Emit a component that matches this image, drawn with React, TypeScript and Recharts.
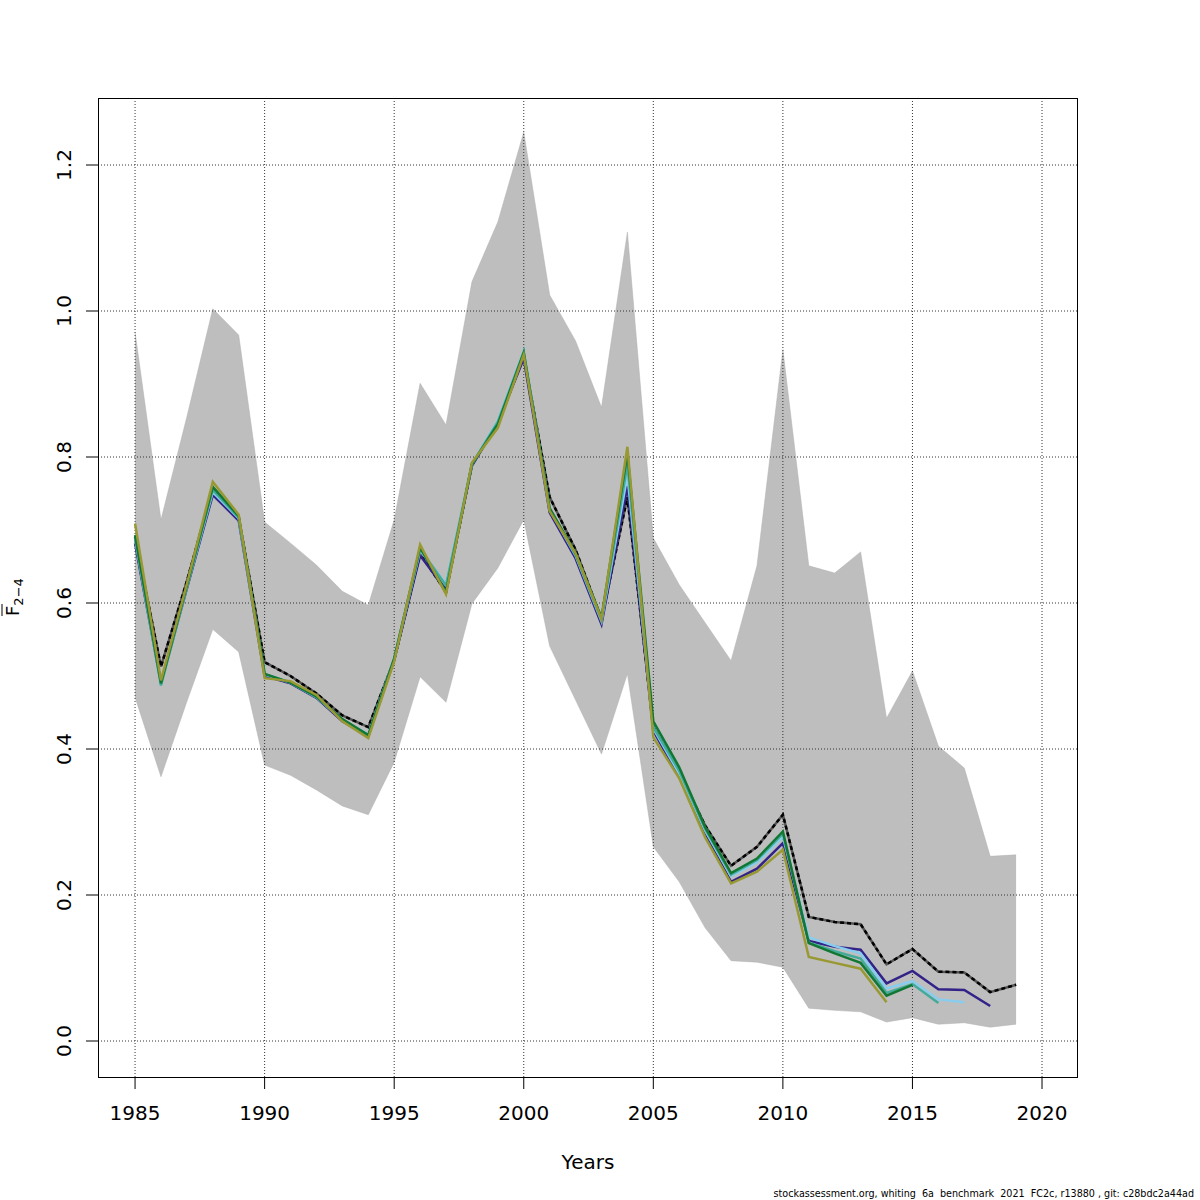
import React from 'react'
import { ComposedChart, Line, Area, XAxis, YAxis, ReferenceLine } from 'recharts'

const years = [
  1985, 1986, 1987, 1988, 1989, 1990, 1991, 1992, 1993, 1994,
  1995, 1996, 1997, 1998, 1999, 2000, 2001, 2002, 2003, 2004,
  2005, 2006, 2007, 2008, 2009, 2010, 2011, 2012, 2013, 2014,
  2015, 2016, 2017, 2018, 2019,
]

// confidence band of the full assessment
const upper = [
  0.971, 0.714, 0.855, 1.003, 0.967, 0.711, 0.682, 0.652, 0.616, 0.597,
  0.714, 0.901, 0.844, 1.040, 1.122, 1.245, 1.022, 0.959, 0.868, 1.108,
  0.689, 0.625, 0.573, 0.521, 0.651, 0.947, 0.651, 0.641, 0.670, 0.442,
  0.507, 0.404, 0.374, 0.253, 0.255,
]
const lower = [
  0.471, 0.362, 0.465, 0.564, 0.533, 0.378, 0.364, 0.344, 0.322, 0.310,
  0.382, 0.499, 0.464, 0.599, 0.648, 0.714, 0.541, 0.467, 0.393, 0.503,
  0.266, 0.218, 0.155, 0.110, 0.108, 0.101, 0.045, 0.042, 0.040, 0.026,
  0.032, 0.023, 0.025, 0.019, 0.023,
]

// full run (black dashed) and retrospective peels
const full = [
  0.690, 0.513, 0.630, 0.757, 0.717, 0.519, 0.500, 0.476, 0.446, 0.430,
  0.522, 0.668, 0.615, 0.790, 0.845, 0.938, 0.745, 0.673, 0.578, 0.745,
  0.430, 0.368, 0.295, 0.240, 0.266, 0.310, 0.170, 0.163, 0.160, 0.105,
  0.126, 0.095, 0.094, 0.067, 0.077,
]
const peel1 = [
  0.682, 0.490, 0.620, 0.748, 0.713, 0.500, 0.490, 0.470, 0.438, 0.418,
  0.522, 0.665, 0.618, 0.788, 0.847, 0.935, 0.724, 0.661, 0.571, 0.760,
  0.425, 0.362, 0.283, 0.218, 0.236, 0.271, 0.137, 0.129, 0.125, 0.079,
  0.096, 0.071, 0.070, 0.048, null,
]
const peel2 = [
  0.688, 0.488, 0.622, 0.752, 0.716, 0.502, 0.491, 0.471, 0.440, 0.420,
  0.524, 0.672, 0.626, 0.790, 0.850, 0.945, 0.728, 0.665, 0.575, 0.775,
  0.428, 0.366, 0.288, 0.226, 0.245, 0.280, 0.142, 0.130, 0.120, 0.072,
  0.082, 0.057, 0.053, null, null,
]
const peel3 = [
  0.690, 0.487, 0.622, 0.755, 0.717, 0.503, 0.491, 0.471, 0.440, 0.419,
  0.523, 0.674, 0.624, 0.790, 0.848, 0.944, 0.729, 0.666, 0.577, 0.790,
  0.430, 0.370, 0.291, 0.228, 0.248, 0.284, 0.135, 0.123, 0.113, 0.066,
  0.078, 0.052, null, null, null,
]
const peel4 = [
  0.693, 0.490, 0.624, 0.759, 0.719, 0.503, 0.491, 0.472, 0.441, 0.419,
  0.524, 0.676, 0.615, 0.790, 0.845, 0.943, 0.730, 0.668, 0.580, 0.805,
  0.438, 0.375, 0.293, 0.230, 0.250, 0.287, 0.134, 0.120, 0.107, 0.062,
  0.077, null, null, null, null,
]
const peel5 = [
  0.709, 0.494, 0.626, 0.766, 0.721, 0.497, 0.493, 0.474, 0.438, 0.415,
  0.520, 0.680, 0.612, 0.792, 0.840, 0.940, 0.726, 0.668, 0.578, 0.814,
  0.416, 0.360, 0.279, 0.216, 0.232, 0.262, 0.115, 0.107, 0.099, 0.053,
  null, null, null, null, null,
]

const xTicks = [1985, 1990, 1995, 2000, 2005, 2010, 2015, 2020]
const yTicks = [0, 0.2, 0.4, 0.6, 0.8, 1.0, 1.2]

const peels = [
  { key: 'p1', color: '#332288' },
  { key: 'p2', color: '#88CCEE' },
  { key: 'p3', color: '#44AA99' },
  { key: 'p4', color: '#117733' },
  { key: 'p5', color: '#999933' },
]

const data = years.map((year, i) => ({
  year,
  band: [lower[i], upper[i]],
  full: full[i],
  p1: peel1[i],
  p2: peel2[i],
  p3: peel3[i],
  p4: peel4[i],
  p5: peel5[i],
}))

const YTick = (props: any) => {
  const { y, payload } = props
  return (
    <text x={71} y={y} transform={`rotate(-90 71 ${y})`} textAnchor="middle" fontSize={20} fill="#000">
      {payload.value.toFixed(1)}
    </text>
  )
}

export default function App() {
  return (
    <div style={{ position: 'absolute', left: 0, top: 0, width: 1200, height: 1200, background: '#fff', fontFamily: 'DejaVu Sans' }}>
      <ComposedChart width={1200} height={1200} data={data} margin={{ top: 98, right: 123, bottom: 0, left: 0 }}>
        <XAxis
          dataKey="year"
          type="number"
          domain={[1983.57, 2021.35]}
          ticks={xTicks}
          allowDataOverflow
          axisLine={false}
          tickSize={12}
          tickMargin={17}
          height={123}
          tick={{ fontSize: 20, fill: '#000' }}
          tickLine={{ stroke: '#000' }}
        />
        <YAxis
          type="number"
          domain={[-0.0493, 1.2918]}
          ticks={yTicks}
          allowDataOverflow
          axisLine={false}
          tickSize={12}
          width={98}
          tick={<YTick />}
          tickLine={{ stroke: '#000' }}
        />
        <Area
          dataKey="band"
          fill="#bebebe"
          fillOpacity={1}
          stroke="#b0b0b0"
          strokeWidth={0.5}
          isAnimationActive={false}
        />
        {xTicks.map((t) => (
          <ReferenceLine key={'x' + t} x={t} stroke="#333" strokeDasharray="1 2" />
        ))}
        {yTicks.map((t) => (
          <ReferenceLine key={'y' + t} y={t} stroke="#333" strokeDasharray="1 2" />
        ))}
        <Line dataKey="full" stroke="#555" strokeWidth={2.5} dot={false} isAnimationActive={false} />
        <Line dataKey="full" stroke="#000" strokeWidth={2.5} strokeDasharray="4 3" dot={false} isAnimationActive={false} />
        {peels.map((p) => (
          <Line key={p.key} dataKey={p.key} stroke={p.color} strokeWidth={2.5} dot={false} isAnimationActive={false} />
        ))}
      </ComposedChart>
      <svg width={1200} height={1200} style={{ position: 'absolute', left: 0, top: 0, pointerEvents: 'none' }}>
        <rect x={98.5} y={98.5} width={979} height={979} fill="none" stroke="#000" strokeWidth={1} />
        <text x={588} y={1169} textAnchor="middle" fontSize={20} fill="#000">Years</text>
        <g transform="translate(19 616) rotate(-90)">
          <text x={0} y={0} fontSize={18} fill="#000">
            F<tspan fontSize={13} dy={4}>2−4</tspan>
          </text>
          <line x1={0} x2={12} y1={-17} y2={-17} stroke="#000" strokeWidth={1} />
        </g>
        <text x={1194} y={1197} textAnchor="end" fontSize={9.6} fill="#000" style={{ whiteSpace: 'pre' }}>
          {'stockassessment.org, whiting  6a  benchmark  2021  FC2c, r13880 , git: c28bdc2a44ad'}
        </text>
      </svg>
    </div>
  )
}
